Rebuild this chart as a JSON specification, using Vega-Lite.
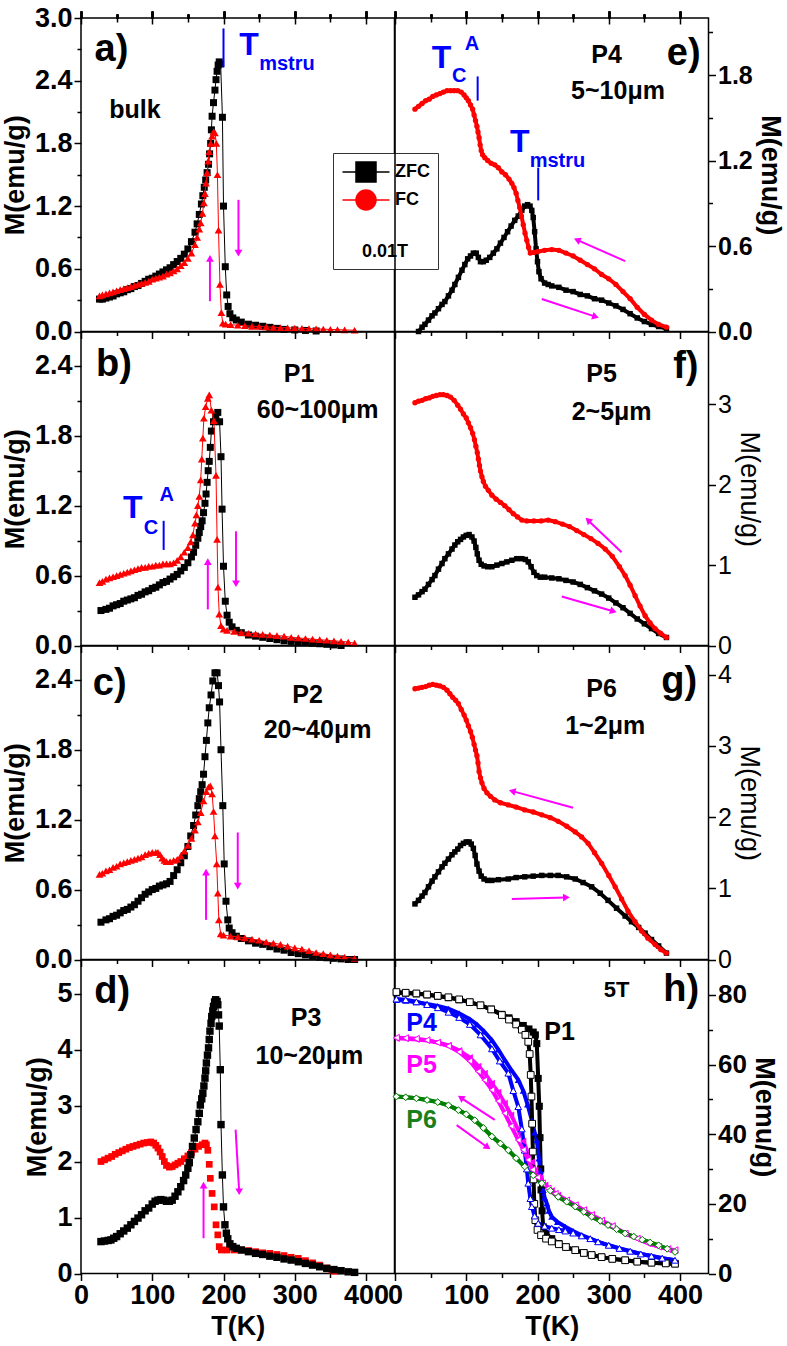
{
"$schema":"https://vega.github.io/schema/vega-lite/v6.json",
"padding":{"left":0,"top":3,"right":5,"bottom":5},
"config":{"view":{"stroke":"#000","strokeWidth":1.5},"font":"Liberation Sans",
"axis":{"grid":false,"domain":false,"labelFont":"Liberation Sans","labelFontWeight":"bold","labelFontSize":27,"labelColor":"#000","tickColor":"#000","tickWidth":1.5,"titleFont":"Liberation Sans","titleFontSize":27,"titleFontWeight":"bold","titleColor":"#000","labelOverlap":false,"labelFlush":false,"labelPadding":2},
"text":{"font":"Liberation Sans","fontWeight":"bold"}},
"datasets":{
"aZ":[{"t":26,"m":0.31},{"t":30,"m":0.31},{"t":35,"m":0.32},{"t":40,"m":0.33},{"t":45,"m":0.34},{"t":50,"m":0.36},{"t":55,"m":0.37},{"t":60,"m":0.38},{"t":65,"m":0.4},{"t":70,"m":0.41},{"t":75,"m":0.43},{"t":80,"m":0.44},{"t":85,"m":0.46},{"t":90,"m":0.48},{"t":95,"m":0.5},{"t":100,"m":0.51},{"t":105,"m":0.53},{"t":110,"m":0.55},{"t":115,"m":0.57},{"t":120,"m":0.59},{"t":125,"m":0.61},{"t":130,"m":0.64},{"t":135,"m":0.67},{"t":140,"m":0.7},{"t":145,"m":0.74},{"t":150,"m":0.79},{"t":155,"m":0.86},{"t":160,"m":0.95},{"t":163,"m":1.03},{"t":166,"m":1.12},{"t":169,"m":1.22},{"t":171,"m":1.3},{"t":173,"m":1.38},{"t":175,"m":1.45},{"t":177,"m":1.52},{"t":179,"m":1.6},{"t":180.5,"m":1.7},{"t":182,"m":1.8},{"t":183,"m":1.93},{"t":184,"m":2.06},{"t":186,"m":2.19},{"t":188,"m":2.31},{"t":189.5,"m":2.41},{"t":191,"m":2.49},{"t":192.5,"m":2.55},{"t":194,"m":2.58},{"t":196,"m":2.56},{"t":198.5,"m":2.05},{"t":200,"m":1.2},{"t":202.5,"m":0.62},{"t":204.5,"m":0.35},{"t":206.5,"m":0.24},{"t":209,"m":0.17},{"t":213,"m":0.13},{"t":218,"m":0.11},{"t":225,"m":0.09},{"t":235,"m":0.07},{"t":245,"m":0.06},{"t":255,"m":0.05},{"t":265,"m":0.04},{"t":275,"m":0.03},{"t":285,"m":0.02},{"t":300,"m":0.015},{"t":315,"m":0.01},{"t":330,"m":0.005}],
"aF":[{"t":26,"m":0.34},{"t":30,"m":0.35},{"t":35,"m":0.36},{"t":40,"m":0.37},{"t":45,"m":0.38},{"t":50,"m":0.39},{"t":55,"m":0.4},{"t":60,"m":0.41},{"t":65,"m":0.42},{"t":70,"m":0.43},{"t":75,"m":0.44},{"t":80,"m":0.45},{"t":85,"m":0.46},{"t":90,"m":0.47},{"t":95,"m":0.48},{"t":100,"m":0.5},{"t":105,"m":0.51},{"t":110,"m":0.52},{"t":115,"m":0.53},{"t":120,"m":0.55},{"t":125,"m":0.56},{"t":130,"m":0.58},{"t":135,"m":0.6},{"t":140,"m":0.63},{"t":145,"m":0.66},{"t":150,"m":0.7},{"t":155,"m":0.75},{"t":160,"m":0.83},{"t":163,"m":0.9},{"t":166,"m":0.98},{"t":168,"m":1.04},{"t":170.5,"m":1.13},{"t":172.5,"m":1.23},{"t":174,"m":1.32},{"t":175.5,"m":1.42},{"t":177,"m":1.52},{"t":178.5,"m":1.63},{"t":180,"m":1.72},{"t":182,"m":1.8},{"t":184,"m":1.87},{"t":186,"m":1.91},{"t":188,"m":1.9},{"t":190,"m":1.8},{"t":191.5,"m":1.5},{"t":193,"m":0.97},{"t":195,"m":0.45},{"t":197,"m":0.18},{"t":199,"m":0.08},{"t":203,"m":0.07},{"t":210,"m":0.065},{"t":220,"m":0.06},{"t":230,"m":0.055},{"t":240,"m":0.05},{"t":250,"m":0.048},{"t":260,"m":0.045},{"t":270,"m":0.04},{"t":280,"m":0.038},{"t":290,"m":0.035},{"t":300,"m":0.033},{"t":310,"m":0.03},{"t":320,"m":0.028},{"t":330,"m":0.025},{"t":340,"m":0.022},{"t":350,"m":0.02},{"t":360,"m":0.018},{"t":370,"m":0.015},{"t":384,"m":0.012}],
"bZ":[{"t":28,"m":0.3},{"t":35,"m":0.31},{"t":40,"m":0.32},{"t":45,"m":0.34},{"t":50,"m":0.35},{"t":55,"m":0.36},{"t":60,"m":0.38},{"t":65,"m":0.39},{"t":70,"m":0.4},{"t":75,"m":0.41},{"t":80,"m":0.43},{"t":85,"m":0.44},{"t":90,"m":0.46},{"t":95,"m":0.47},{"t":100,"m":0.49},{"t":105,"m":0.5},{"t":110,"m":0.52},{"t":115,"m":0.54},{"t":120,"m":0.55},{"t":125,"m":0.57},{"t":130,"m":0.59},{"t":135,"m":0.61},{"t":140,"m":0.64},{"t":145,"m":0.67},{"t":150,"m":0.71},{"t":155,"m":0.76},{"t":158,"m":0.8},{"t":161,"m":0.86},{"t":164,"m":0.92},{"t":166,"m":0.97},{"t":168,"m":1.02},{"t":170,"m":1.07},{"t":172,"m":1.14},{"t":174,"m":1.22},{"t":175.5,"m":1.3},{"t":177,"m":1.4},{"t":178.5,"m":1.5},{"t":180,"m":1.58},{"t":181.5,"m":1.7},{"t":183,"m":1.84},{"t":186,"m":1.92},{"t":189,"m":1.97},{"t":192,"m":2.0},{"t":194.5,"m":1.92},{"t":196.5,"m":1.62},{"t":198,"m":1.17},{"t":200,"m":0.68},{"t":202.5,"m":0.38},{"t":205,"m":0.26},{"t":208,"m":0.2},{"t":212,"m":0.16},{"t":218,"m":0.13},{"t":225,"m":0.11},{"t":235,"m":0.09},{"t":245,"m":0.08},{"t":255,"m":0.07},{"t":265,"m":0.06},{"t":275,"m":0.05},{"t":285,"m":0.04},{"t":295,"m":0.035},{"t":305,"m":0.03},{"t":315,"m":0.025},{"t":325,"m":0.02},{"t":335,"m":0.015},{"t":345,"m":0.01},{"t":355,"m":0.005},{"t":365,"m":0.0}],
"bF":[{"t":26,"m":0.54},{"t":30,"m":0.55},{"t":35,"m":0.57},{"t":40,"m":0.58},{"t":45,"m":0.59},{"t":50,"m":0.6},{"t":55,"m":0.61},{"t":60,"m":0.62},{"t":65,"m":0.63},{"t":70,"m":0.64},{"t":75,"m":0.65},{"t":80,"m":0.66},{"t":85,"m":0.67},{"t":90,"m":0.67},{"t":95,"m":0.68},{"t":100,"m":0.68},{"t":105,"m":0.69},{"t":110,"m":0.69},{"t":115,"m":0.7},{"t":120,"m":0.7},{"t":125,"m":0.7},{"t":130,"m":0.71},{"t":135,"m":0.73},{"t":140,"m":0.76},{"t":145,"m":0.8},{"t":150,"m":0.84},{"t":154,"m":0.89},{"t":157,"m":0.95},{"t":160,"m":1.05},{"t":162,"m":1.12},{"t":164,"m":1.2},{"t":166,"m":1.28},{"t":168,"m":1.42},{"t":169.5,"m":1.6},{"t":171,"m":1.78},{"t":172.5,"m":1.95},{"t":175,"m":2.05},{"t":178,"m":2.12},{"t":180,"m":2.15},{"t":183,"m":2.02},{"t":186.5,"m":1.93},{"t":189.5,"m":1.46},{"t":191,"m":0.91},{"t":192.3,"m":0.5},{"t":194,"m":0.27},{"t":196.5,"m":0.17},{"t":200,"m":0.14},{"t":205,"m":0.13},{"t":215,"m":0.12},{"t":225,"m":0.11},{"t":235,"m":0.105},{"t":245,"m":0.1},{"t":255,"m":0.095},{"t":265,"m":0.09},{"t":275,"m":0.085},{"t":285,"m":0.08},{"t":295,"m":0.07},{"t":305,"m":0.065},{"t":315,"m":0.06},{"t":325,"m":0.055},{"t":335,"m":0.05},{"t":345,"m":0.045},{"t":355,"m":0.04},{"t":365,"m":0.035},{"t":375,"m":0.03},{"t":384,"m":0.02}],
"cZ":[{"t":28,"m":0.32},{"t":35,"m":0.34},{"t":40,"m":0.35},{"t":45,"m":0.37},{"t":50,"m":0.38},{"t":55,"m":0.4},{"t":60,"m":0.42},{"t":65,"m":0.43},{"t":70,"m":0.45},{"t":75,"m":0.47},{"t":80,"m":0.5},{"t":85,"m":0.53},{"t":90,"m":0.56},{"t":95,"m":0.58},{"t":100,"m":0.6},{"t":105,"m":0.61},{"t":110,"m":0.63},{"t":115,"m":0.64},{"t":120,"m":0.65},{"t":125,"m":0.67},{"t":130,"m":0.72},{"t":135,"m":0.77},{"t":140,"m":0.83},{"t":145,"m":0.89},{"t":150,"m":0.97},{"t":154,"m":1.06},{"t":158,"m":1.15},{"t":161,"m":1.24},{"t":164,"m":1.32},{"t":166,"m":1.38},{"t":168,"m":1.44},{"t":170,"m":1.5},{"t":172,"m":1.59},{"t":174,"m":1.74},{"t":176,"m":1.88},{"t":178,"m":2.03},{"t":180,"m":2.16},{"t":182.5,"m":2.27},{"t":185,"m":2.39},{"t":188,"m":2.46},{"t":191,"m":2.46},{"t":193,"m":2.35},{"t":194.5,"m":2.21},{"t":196.5,"m":1.8},{"t":199,"m":1.32},{"t":201,"m":0.82},{"t":203.5,"m":0.5},{"t":206,"m":0.34},{"t":208,"m":0.27},{"t":212,"m":0.23},{"t":218,"m":0.2},{"t":225,"m":0.18},{"t":235,"m":0.16},{"t":245,"m":0.14},{"t":255,"m":0.13},{"t":265,"m":0.11},{"t":275,"m":0.09},{"t":285,"m":0.08},{"t":295,"m":0.06},{"t":305,"m":0.05},{"t":315,"m":0.04},{"t":325,"m":0.03},{"t":335,"m":0.02},{"t":345,"m":0.015},{"t":355,"m":0.01},{"t":365,"m":0.005},{"t":375,"m":0.0},{"t":384,"m":0.0}],
"cF":[{"t":26,"m":0.73},{"t":30,"m":0.74},{"t":35,"m":0.76},{"t":40,"m":0.77},{"t":45,"m":0.79},{"t":50,"m":0.8},{"t":55,"m":0.82},{"t":60,"m":0.83},{"t":65,"m":0.84},{"t":70,"m":0.85},{"t":75,"m":0.86},{"t":80,"m":0.87},{"t":85,"m":0.88},{"t":90,"m":0.9},{"t":95,"m":0.91},{"t":100,"m":0.92},{"t":105,"m":0.92},{"t":108,"m":0.92},{"t":111,"m":0.9},{"t":114,"m":0.87},{"t":117,"m":0.85},{"t":120,"m":0.84},{"t":125,"m":0.84},{"t":130,"m":0.85},{"t":135,"m":0.86},{"t":140,"m":0.89},{"t":145,"m":0.93},{"t":150,"m":0.98},{"t":155,"m":1.04},{"t":160,"m":1.11},{"t":164,"m":1.18},{"t":168,"m":1.26},{"t":172,"m":1.36},{"t":176,"m":1.44},{"t":179,"m":1.48},{"t":181.5,"m":1.49},{"t":184,"m":1.42},{"t":186,"m":1.27},{"t":188,"m":1.06},{"t":190.5,"m":0.82},{"t":192,"m":0.57},{"t":193.5,"m":0.34},{"t":196,"m":0.22},{"t":200,"m":0.21},{"t":210,"m":0.2},{"t":220,"m":0.195},{"t":230,"m":0.185},{"t":240,"m":0.175},{"t":250,"m":0.165},{"t":260,"m":0.15},{"t":270,"m":0.14},{"t":280,"m":0.13},{"t":290,"m":0.115},{"t":300,"m":0.1},{"t":310,"m":0.09},{"t":320,"m":0.075},{"t":330,"m":0.06},{"t":340,"m":0.05},{"t":350,"m":0.04},{"t":360,"m":0.03},{"t":370,"m":0.02},{"t":384,"m":0.01}],
"dZ":[{"t":28,"m":0.57},{"t":33,"m":0.58},{"t":38,"m":0.59},{"t":42,"m":0.6},{"t":46,"m":0.63},{"t":50,"m":0.66},{"t":55,"m":0.71},{"t":60,"m":0.76},{"t":65,"m":0.81},{"t":70,"m":0.87},{"t":75,"m":0.93},{"t":80,"m":0.99},{"t":85,"m":1.05},{"t":90,"m":1.12},{"t":95,"m":1.17},{"t":100,"m":1.24},{"t":104,"m":1.29},{"t":108,"m":1.31},{"t":112,"m":1.32},{"t":116,"m":1.31},{"t":120,"m":1.29},{"t":124,"m":1.29},{"t":128,"m":1.31},{"t":132,"m":1.38},{"t":136,"m":1.46},{"t":140,"m":1.55},{"t":144,"m":1.66},{"t":147,"m":1.76},{"t":150,"m":1.88},{"t":152,"m":1.98},{"t":154,"m":2.12},{"t":156.5,"m":2.27},{"t":159,"m":2.42},{"t":161.5,"m":2.57},{"t":164,"m":2.71},{"t":166,"m":2.86},{"t":167.5,"m":3.01},{"t":169.5,"m":3.12},{"t":171,"m":3.22},{"t":172.5,"m":3.35},{"t":174,"m":3.49},{"t":175,"m":3.62},{"t":176,"m":3.76},{"t":177.5,"m":3.9},{"t":179,"m":4.03},{"t":180,"m":4.18},{"t":181,"m":4.33},{"t":182.5,"m":4.47},{"t":183.5,"m":4.59},{"t":185,"m":4.69},{"t":186,"m":4.77},{"t":187.5,"m":4.85},{"t":189,"m":4.89},{"t":191,"m":4.86},{"t":192,"m":4.8},{"t":193,"m":4.62},{"t":194,"m":4.42},{"t":195.5,"m":3.64},{"t":196.5,"m":2.66},{"t":198.4,"m":1.76},{"t":200,"m":1.19},{"t":202,"m":0.87},{"t":204,"m":0.72},{"t":206,"m":0.62},{"t":209,"m":0.53},{"t":213,"m":0.48},{"t":218,"m":0.45},{"t":225,"m":0.42},{"t":235,"m":0.39},{"t":245,"m":0.36},{"t":255,"m":0.34},{"t":265,"m":0.31},{"t":275,"m":0.29},{"t":285,"m":0.26},{"t":295,"m":0.24},{"t":305,"m":0.21},{"t":315,"m":0.18},{"t":325,"m":0.15},{"t":335,"m":0.12},{"t":345,"m":0.09},{"t":355,"m":0.07},{"t":365,"m":0.05},{"t":375,"m":0.03},{"t":384,"m":0.02}],
"dF":[{"t":28,"m":2.0},{"t":33,"m":2.03},{"t":38,"m":2.06},{"t":43,"m":2.09},{"t":48,"m":2.13},{"t":53,"m":2.16},{"t":58,"m":2.19},{"t":63,"m":2.22},{"t":68,"m":2.25},{"t":73,"m":2.27},{"t":78,"m":2.29},{"t":83,"m":2.31},{"t":88,"m":2.33},{"t":93,"m":2.34},{"t":98,"m":2.35},{"t":102,"m":2.33},{"t":105,"m":2.29},{"t":108,"m":2.24},{"t":111,"m":2.17},{"t":114,"m":2.09},{"t":117,"m":2.0},{"t":120,"m":1.93},{"t":124,"m":1.9},{"t":128,"m":1.91},{"t":132,"m":1.94},{"t":136,"m":1.97},{"t":140,"m":2.0},{"t":145,"m":2.05},{"t":150,"m":2.1},{"t":155,"m":2.16},{"t":160,"m":2.22},{"t":165,"m":2.27},{"t":170,"m":2.3},{"t":174,"m":2.33},{"t":176,"m":2.3},{"t":178,"m":2.2},{"t":180,"m":1.95},{"t":181.5,"m":1.7},{"t":184,"m":1.43},{"t":187,"m":1.19},{"t":189.5,"m":0.87},{"t":192,"m":0.69},{"t":194,"m":0.48},{"t":197,"m":0.42},{"t":205,"m":0.42},{"t":215,"m":0.42},{"t":225,"m":0.42},{"t":235,"m":0.41},{"t":245,"m":0.39},{"t":255,"m":0.37},{"t":265,"m":0.36},{"t":275,"m":0.34},{"t":285,"m":0.32},{"t":295,"m":0.29},{"t":305,"m":0.27},{"t":315,"m":0.23},{"t":325,"m":0.19},{"t":335,"m":0.15},{"t":345,"m":0.1},{"t":352,"m":0.06},{"t":356,"m":0.04}],
"eZ":[{"t":33,"m":0.0},{"t":38,"m":0.03},{"t":42,"m":0.05},{"t":47,"m":0.08},{"t":52,"m":0.11},{"t":56,"m":0.13},{"t":61,"m":0.16},{"t":66,"m":0.19},{"t":70,"m":0.21},{"t":75,"m":0.25},{"t":80,"m":0.29},{"t":84,"m":0.33},{"t":89,"m":0.38},{"t":94,"m":0.43},{"t":98,"m":0.47},{"t":102,"m":0.51},{"t":106,"m":0.53},{"t":110,"m":0.55},{"t":114,"m":0.55},{"t":117,"m":0.52},{"t":120,"m":0.49},{"t":124,"m":0.49},{"t":128,"m":0.5},{"t":133,"m":0.52},{"t":138,"m":0.55},{"t":143,"m":0.58},{"t":148,"m":0.62},{"t":153,"m":0.66},{"t":158,"m":0.7},{"t":163,"m":0.74},{"t":168,"m":0.78},{"t":173,"m":0.81},{"t":178,"m":0.85},{"t":182,"m":0.88},{"t":186,"m":0.89},{"t":189.5,"m":0.88},{"t":192,"m":0.85},{"t":194,"m":0.8},{"t":196,"m":0.7},{"t":198,"m":0.58},{"t":200,"m":0.49},{"t":202,"m":0.42},{"t":205,"m":0.37},{"t":210,"m":0.34},{"t":215,"m":0.33},{"t":220,"m":0.32},{"t":230,"m":0.31},{"t":240,"m":0.29},{"t":250,"m":0.28},{"t":260,"m":0.26},{"t":270,"m":0.25},{"t":280,"m":0.23},{"t":290,"m":0.22},{"t":300,"m":0.2},{"t":310,"m":0.18},{"t":320,"m":0.155},{"t":330,"m":0.125},{"t":340,"m":0.095},{"t":350,"m":0.07},{"t":360,"m":0.05},{"t":370,"m":0.035},{"t":381,"m":0.02}],
"eF":[{"t":28,"m":1.56},{"t":33,"m":1.58},{"t":38,"m":1.6},{"t":43,"m":1.62},{"t":48,"m":1.63},{"t":53,"m":1.65},{"t":58,"m":1.66},{"t":63,"m":1.67},{"t":68,"m":1.68},{"t":73,"m":1.69},{"t":78,"m":1.69},{"t":83,"m":1.69},{"t":88,"m":1.69},{"t":93,"m":1.68},{"t":97,"m":1.66},{"t":100,"m":1.64},{"t":103,"m":1.62},{"t":106,"m":1.59},{"t":109,"m":1.56},{"t":111,"m":1.52},{"t":113,"m":1.48},{"t":115,"m":1.44},{"t":116.5,"m":1.4},{"t":118,"m":1.36},{"t":119.5,"m":1.31},{"t":121,"m":1.27},{"t":123,"m":1.24},{"t":126,"m":1.22},{"t":130,"m":1.2},{"t":135,"m":1.18},{"t":140,"m":1.17},{"t":145,"m":1.15},{"t":150,"m":1.12},{"t":155,"m":1.1},{"t":160,"m":1.07},{"t":164,"m":1.04},{"t":167,"m":1.01},{"t":170,"m":0.97},{"t":172.5,"m":0.92},{"t":175,"m":0.87},{"t":177.5,"m":0.81},{"t":180,"m":0.75},{"t":182.5,"m":0.69},{"t":185,"m":0.64},{"t":187.5,"m":0.59},{"t":190,"m":0.55},{"t":195,"m":0.555},{"t":200,"m":0.56},{"t":210,"m":0.57},{"t":220,"m":0.575},{"t":230,"m":0.57},{"t":240,"m":0.55},{"t":250,"m":0.53},{"t":260,"m":0.5},{"t":270,"m":0.47},{"t":280,"m":0.44},{"t":290,"m":0.4},{"t":300,"m":0.37},{"t":310,"m":0.33},{"t":320,"m":0.28},{"t":330,"m":0.23},{"t":340,"m":0.17},{"t":350,"m":0.12},{"t":360,"m":0.08},{"t":370,"m":0.05},{"t":381,"m":0.03}],
"fZ":[{"t":28,"m":0.6},{"t":33,"m":0.63},{"t":38,"m":0.67},{"t":42,"m":0.7},{"t":47,"m":0.76},{"t":52,"m":0.82},{"t":56,"m":0.87},{"t":61,"m":0.95},{"t":66,"m":1.02},{"t":70,"m":1.08},{"t":75,"m":1.14},{"t":80,"m":1.2},{"t":84,"m":1.25},{"t":88,"m":1.29},{"t":92,"m":1.32},{"t":96,"m":1.35},{"t":100,"m":1.37},{"t":104,"m":1.38},{"t":108,"m":1.35},{"t":111,"m":1.3},{"t":113.5,"m":1.22},{"t":115.5,"m":1.14},{"t":118,"m":1.06},{"t":121,"m":1.01},{"t":125,"m":0.99},{"t":130,"m":0.98},{"t":136,"m":0.98},{"t":143,"m":1.0},{"t":150,"m":1.02},{"t":157,"m":1.04},{"t":164,"m":1.06},{"t":171,"m":1.08},{"t":178,"m":1.08},{"t":183,"m":1.07},{"t":187,"m":1.04},{"t":191,"m":0.98},{"t":195,"m":0.91},{"t":199,"m":0.87},{"t":204,"m":0.85},{"t":210,"m":0.85},{"t":220,"m":0.84},{"t":230,"m":0.83},{"t":240,"m":0.81},{"t":250,"m":0.79},{"t":260,"m":0.76},{"t":270,"m":0.72},{"t":280,"m":0.68},{"t":290,"m":0.64},{"t":300,"m":0.59},{"t":310,"m":0.53},{"t":320,"m":0.47},{"t":330,"m":0.4},{"t":340,"m":0.33},{"t":350,"m":0.27},{"t":360,"m":0.21},{"t":370,"m":0.15},{"t":381,"m":0.1}],
"fF":[{"t":28,"m":3.02},{"t":33,"m":3.04},{"t":38,"m":3.05},{"t":43,"m":3.07},{"t":48,"m":3.08},{"t":53,"m":3.1},{"t":58,"m":3.11},{"t":63,"m":3.12},{"t":68,"m":3.12},{"t":73,"m":3.11},{"t":78,"m":3.09},{"t":83,"m":3.05},{"t":88,"m":2.99},{"t":92,"m":2.94},{"t":96,"m":2.88},{"t":100,"m":2.83},{"t":103,"m":2.77},{"t":106,"m":2.71},{"t":109,"m":2.64},{"t":111.5,"m":2.56},{"t":113.5,"m":2.48},{"t":115.5,"m":2.4},{"t":117,"m":2.32},{"t":118.5,"m":2.24},{"t":120,"m":2.17},{"t":122,"m":2.1},{"t":124,"m":2.04},{"t":127,"m":1.98},{"t":131,"m":1.93},{"t":136,"m":1.87},{"t":142,"m":1.82},{"t":148,"m":1.78},{"t":154,"m":1.74},{"t":160,"m":1.69},{"t":166,"m":1.64},{"t":172,"m":1.6},{"t":178,"m":1.56},{"t":185,"m":1.55},{"t":195,"m":1.55},{"t":205,"m":1.55},{"t":215,"m":1.56},{"t":225,"m":1.54},{"t":235,"m":1.51},{"t":245,"m":1.48},{"t":255,"m":1.43},{"t":265,"m":1.38},{"t":275,"m":1.33},{"t":285,"m":1.27},{"t":295,"m":1.2},{"t":305,"m":1.11},{"t":315,"m":0.98},{"t":323,"m":0.87},{"t":330,"m":0.75},{"t":337,"m":0.62},{"t":344,"m":0.49},{"t":351,"m":0.37},{"t":358,"m":0.28},{"t":365,"m":0.21},{"t":373,"m":0.15},{"t":381,"m":0.1}],
"gZ":[{"t":28,"m":0.78},{"t":33,"m":0.83},{"t":38,"m":0.89},{"t":42,"m":0.94},{"t":47,"m":1.02},{"t":52,"m":1.1},{"t":56,"m":1.16},{"t":61,"m":1.23},{"t":66,"m":1.3},{"t":70,"m":1.35},{"t":75,"m":1.41},{"t":80,"m":1.47},{"t":84,"m":1.51},{"t":88,"m":1.55},{"t":92,"m":1.6},{"t":96,"m":1.63},{"t":100,"m":1.65},{"t":104,"m":1.65},{"t":107,"m":1.62},{"t":110,"m":1.56},{"t":112.5,"m":1.46},{"t":115,"m":1.34},{"t":118,"m":1.24},{"t":121,"m":1.17},{"t":125,"m":1.13},{"t":130,"m":1.11},{"t":136,"m":1.11},{"t":145,"m":1.12},{"t":159,"m":1.13},{"t":170,"m":1.15},{"t":182,"m":1.16},{"t":194,"m":1.17},{"t":206,"m":1.18},{"t":218,"m":1.18},{"t":229,"m":1.18},{"t":241,"m":1.16},{"t":253,"m":1.13},{"t":264,"m":1.08},{"t":276,"m":1.02},{"t":288,"m":0.93},{"t":299,"m":0.83},{"t":311,"m":0.72},{"t":323,"m":0.61},{"t":332,"m":0.53},{"t":342,"m":0.45},{"t":351,"m":0.37},{"t":360,"m":0.28},{"t":370,"m":0.19},{"t":381,"m":0.09}],
"gF":[{"t":28,"m":3.8},{"t":33,"m":3.81},{"t":38,"m":3.82},{"t":43,"m":3.83},{"t":48,"m":3.85},{"t":53,"m":3.86},{"t":58,"m":3.85},{"t":63,"m":3.84},{"t":68,"m":3.82},{"t":73,"m":3.78},{"t":77,"m":3.73},{"t":81,"m":3.68},{"t":85,"m":3.64},{"t":89,"m":3.59},{"t":93,"m":3.51},{"t":97,"m":3.43},{"t":100,"m":3.36},{"t":103,"m":3.28},{"t":106,"m":3.2},{"t":108.5,"m":3.12},{"t":111,"m":3.02},{"t":113,"m":2.94},{"t":115,"m":2.86},{"t":116.5,"m":2.76},{"t":118,"m":2.64},{"t":120,"m":2.55},{"t":122,"m":2.48},{"t":125,"m":2.4},{"t":129,"m":2.34},{"t":134,"m":2.29},{"t":140,"m":2.24},{"t":148,"m":2.2},{"t":159,"m":2.17},{"t":170,"m":2.14},{"t":182,"m":2.1},{"t":194,"m":2.07},{"t":206,"m":2.03},{"t":218,"m":1.99},{"t":229,"m":1.94},{"t":241,"m":1.87},{"t":253,"m":1.79},{"t":262,"m":1.72},{"t":271,"m":1.63},{"t":280,"m":1.5},{"t":290,"m":1.35},{"t":300,"m":1.18},{"t":309,"m":1.02},{"t":318,"m":0.85},{"t":327,"m":0.68},{"t":337,"m":0.53},{"t":346,"m":0.4},{"t":355,"m":0.3},{"t":365,"m":0.21},{"t":373,"m":0.14},{"t":381,"m":0.09}],
"hZ":[{"p":"P1","t":2,"m":80.6},{"p":"P1","t":15,"m":80.5},{"p":"P1","t":30,"m":80.3},{"p":"P1","t":45,"m":80.0},{"p":"P1","t":60,"m":79.6},{"p":"P1","t":75,"m":79.2},{"p":"P1","t":90,"m":78.6},{"p":"P1","t":105,"m":77.9},{"p":"P1","t":120,"m":77.0},{"p":"P1","t":135,"m":75.9},{"p":"P1","t":150,"m":74.4},{"p":"P1","t":160,"m":73.4},{"p":"P1","t":170,"m":72.3},{"p":"P1","t":180,"m":71.2},{"p":"P1","t":188,"m":70.2},{"p":"P1","t":194,"m":69.3},{"p":"P1","t":197,"m":68.5},{"p":"P1","t":199,"m":66.0},{"p":"P1","t":201,"m":56.0},{"p":"P1","t":202.5,"m":48.0},{"p":"P1","t":203.5,"m":39.0},{"p":"P1","t":204.5,"m":30.0},{"p":"P1","t":205,"m":24.0},{"p":"P1","t":206.5,"m":18.0},{"p":"P1","t":208,"m":13.4},{"p":"P1","t":212,"m":11.5},{"p":"P1","t":220,"m":10.0},{"p":"P1","t":230,"m":8.6},{"p":"P1","t":240,"m":7.6},{"p":"P1","t":253,"m":6.7},{"p":"P1","t":265,"m":5.9},{"p":"P1","t":276,"m":5.3},{"p":"P1","t":290,"m":4.7},{"p":"P1","t":305,"m":4.2},{"p":"P1","t":323,"m":3.8},{"p":"P1","t":340,"m":3.4},{"p":"P1","t":360,"m":3.1},{"p":"P1","t":380,"m":2.9},{"p":"P1","t":393,"m":2.8},
{"p":"P4","t":2,"m":78.5},{"p":"P4","t":15,"m":78.3},{"p":"P4","t":30,"m":77.9},{"p":"P4","t":45,"m":77.4},{"p":"P4","t":60,"m":76.8},{"p":"P4","t":75,"m":76.0},{"p":"P4","t":90,"m":74.7},{"p":"P4","t":105,"m":73.0},{"p":"P4","t":115,"m":71.5},{"p":"P4","t":125,"m":69.5},{"p":"P4","t":136,"m":67.0},{"p":"P4","t":145,"m":64.3},{"p":"P4","t":154,"m":61.3},{"p":"P4","t":163,"m":58.5},{"p":"P4","t":173,"m":55.6},{"p":"P4","t":180,"m":52.5},{"p":"P4","t":186,"m":48.5},{"p":"P4","t":192,"m":44.0},{"p":"P4","t":196,"m":40.5},{"p":"P4","t":199,"m":38.3},{"p":"P4","t":202,"m":33.0},{"p":"P4","t":204,"m":29.5},{"p":"P4","t":206,"m":26.8},{"p":"P4","t":208,"m":24.0},{"p":"P4","t":210,"m":21.8},{"p":"P4","t":213,"m":20.1},{"p":"P4","t":216,"m":18.0},{"p":"P4","t":220,"m":16.3},{"p":"P4","t":228,"m":14.8},{"p":"P4","t":239,"m":13.4},{"p":"P4","t":250,"m":12.2},{"p":"P4","t":262,"m":11.0},{"p":"P4","t":274,"m":10.0},{"p":"P4","t":285,"m":9.1},{"p":"P4","t":300,"m":8.1},{"p":"P4","t":315,"m":7.2},{"p":"P4","t":330,"m":6.4},{"p":"P4","t":345,"m":5.6},{"p":"P4","t":360,"m":5.0},{"p":"P4","t":375,"m":4.4},{"p":"P4","t":393,"m":3.8},
{"p":"P5","t":2,"m":67.5},{"p":"P5","t":15,"m":67.4},{"p":"P5","t":30,"m":67.2},{"p":"P5","t":45,"m":66.9},{"p":"P5","t":60,"m":66.3},{"p":"P5","t":75,"m":65.5},{"p":"P5","t":90,"m":64.0},{"p":"P5","t":105,"m":62.0},{"p":"P5","t":117,"m":59.5},{"p":"P5","t":126,"m":57.5},{"p":"P5","t":136,"m":54.6},{"p":"P5","t":145,"m":52.0},{"p":"P5","t":154,"m":48.9},{"p":"P5","t":163,"m":45.5},{"p":"P5","t":173,"m":41.2},{"p":"P5","t":180,"m":38.0},{"p":"P5","t":187,"m":34.5},{"p":"P5","t":192,"m":32.0},{"p":"P5","t":197,"m":29.7},{"p":"P5","t":204,"m":27.5},{"p":"P5","t":211,"m":25.4},{"p":"P5","t":220,"m":23.8},{"p":"P5","t":229,"m":22.5},{"p":"P5","t":241,"m":21.0},{"p":"P5","t":253,"m":19.6},{"p":"P5","t":265,"m":18.2},{"p":"P5","t":276,"m":16.8},{"p":"P5","t":290,"m":15.2},{"p":"P5","t":305,"m":13.6},{"p":"P5","t":323,"m":11.5},{"p":"P5","t":340,"m":10.0},{"p":"P5","t":355,"m":8.7},{"p":"P5","t":370,"m":7.7},{"p":"P5","t":383,"m":7.0},{"p":"P5","t":393,"m":6.7},
{"p":"P6","t":2,"m":50.8},{"p":"P6","t":15,"m":50.6},{"p":"P6","t":30,"m":50.3},{"p":"P6","t":45,"m":49.8},{"p":"P6","t":60,"m":49.2},{"p":"P6","t":75,"m":48.3},{"p":"P6","t":89,"m":46.9},{"p":"P6","t":100,"m":45.7},{"p":"P6","t":112,"m":44.0},{"p":"P6","t":124,"m":41.8},{"p":"P6","t":136,"m":39.3},{"p":"P6","t":148,"m":37.3},{"p":"P6","t":159,"m":35.4},{"p":"P6","t":170,"m":33.1},{"p":"P6","t":182,"m":30.7},{"p":"P6","t":194,"m":28.2},{"p":"P6","t":206,"m":25.9},{"p":"P6","t":218,"m":23.8},{"p":"P6","t":229,"m":22.0},{"p":"P6","t":241,"m":20.6},{"p":"P6","t":253,"m":19.2},{"p":"P6","t":265,"m":17.7},{"p":"P6","t":276,"m":16.3},{"p":"P6","t":288,"m":15.1},{"p":"P6","t":299,"m":13.9},{"p":"P6","t":311,"m":12.7},{"p":"P6","t":323,"m":11.5},{"p":"P6","t":335,"m":10.6},{"p":"P6","t":347,"m":9.7},{"p":"P6","t":358,"m":8.9},{"p":"P6","t":370,"m":8.1},{"p":"P6","t":382,"m":7.1},{"p":"P6","t":393,"m":6.2}],
"hF":[{"p":"P1","t":2,"m":80.8},{"p":"P1","t":15,"m":80.6},{"p":"P1","t":30,"m":80.4},{"p":"P1","t":45,"m":80.1},{"p":"P1","t":60,"m":79.7},{"p":"P1","t":75,"m":79.3},{"p":"P1","t":90,"m":78.7},{"p":"P1","t":105,"m":77.9},{"p":"P1","t":120,"m":77.0},{"p":"P1","t":135,"m":75.8},{"p":"P1","t":150,"m":74.2},{"p":"P1","t":160,"m":72.9},{"p":"P1","t":170,"m":71.5},{"p":"P1","t":178,"m":70.0},{"p":"P1","t":183,"m":68.5},{"p":"P1","t":187,"m":66.5},{"p":"P1","t":189,"m":63.0},{"p":"P1","t":190.5,"m":57.0},{"p":"P1","t":191.5,"m":50.8},{"p":"P1","t":192.5,"m":43.0},{"p":"P1","t":193.5,"m":35.0},{"p":"P1","t":194.5,"m":27.0},{"p":"P1","t":195.5,"m":20.0},{"p":"P1","t":197,"m":15.3},{"p":"P1","t":200,"m":12.5},{"p":"P1","t":205,"m":11.0},{"p":"P1","t":212,"m":10.0},{"p":"P1","t":220,"m":9.2},{"p":"P1","t":230,"m":8.4},{"p":"P1","t":240,"m":7.6},{"p":"P1","t":253,"m":6.7},{"p":"P1","t":265,"m":5.9},{"p":"P1","t":276,"m":5.3},{"p":"P1","t":290,"m":4.7},{"p":"P1","t":305,"m":4.2},{"p":"P1","t":323,"m":3.8},{"p":"P1","t":340,"m":3.4},{"p":"P1","t":360,"m":3.1},{"p":"P1","t":380,"m":2.9},{"p":"P1","t":393,"m":2.8},
{"p":"P4","t":2,"m":78.8},{"p":"P4","t":15,"m":78.6},{"p":"P4","t":30,"m":78.0},{"p":"P4","t":45,"m":77.2},{"p":"P4","t":60,"m":76.3},{"p":"P4","t":75,"m":75.0},{"p":"P4","t":90,"m":73.5},{"p":"P4","t":105,"m":71.5},{"p":"P4","t":120,"m":68.5},{"p":"P4","t":136,"m":64.5},{"p":"P4","t":147,"m":61.0},{"p":"P4","t":159,"m":57.5},{"p":"P4","t":166,"m":52.5},{"p":"P4","t":173,"m":47.9},{"p":"P4","t":178,"m":41.5},{"p":"P4","t":182,"m":35.4},{"p":"P4","t":185,"m":30.0},{"p":"P4","t":187,"m":25.9},{"p":"P4","t":190,"m":21.5},{"p":"P4","t":192,"m":19.2},{"p":"P4","t":196,"m":16.5},{"p":"P4","t":201,"m":14.4},{"p":"P4","t":210,"m":13.6},{"p":"P4","t":220,"m":13.0},{"p":"P4","t":230,"m":12.6},{"p":"P4","t":239,"m":12.2},{"p":"P4","t":250,"m":11.6},{"p":"P4","t":262,"m":10.8},{"p":"P4","t":274,"m":10.0},{"p":"P4","t":285,"m":9.1},{"p":"P4","t":300,"m":8.1},{"p":"P4","t":315,"m":7.2},{"p":"P4","t":330,"m":6.4},{"p":"P4","t":345,"m":5.6},{"p":"P4","t":360,"m":5.0},{"p":"P4","t":375,"m":4.4},{"p":"P4","t":393,"m":3.8},
{"p":"P5","t":2,"m":67.7},{"p":"P5","t":15,"m":67.6},{"p":"P5","t":30,"m":67.4},{"p":"P5","t":45,"m":67.0},{"p":"P5","t":60,"m":66.3},{"p":"P5","t":75,"m":65.3},{"p":"P5","t":90,"m":63.6},{"p":"P5","t":105,"m":61.0},{"p":"P5","t":117,"m":58.0},{"p":"P5","t":126,"m":55.5},{"p":"P5","t":136,"m":52.7},{"p":"P5","t":145,"m":49.5},{"p":"P5","t":154,"m":46.0},{"p":"P5","t":163,"m":42.3},{"p":"P5","t":173,"m":38.3},{"p":"P5","t":180,"m":35.5},{"p":"P5","t":187,"m":32.6},{"p":"P5","t":193,"m":29.8},{"p":"P5","t":200,"m":27.6},{"p":"P5","t":207,"m":25.9},{"p":"P5","t":215,"m":24.4},{"p":"P5","t":225,"m":22.9},{"p":"P5","t":241,"m":21.0},{"p":"P5","t":253,"m":19.6},{"p":"P5","t":265,"m":18.2},{"p":"P5","t":276,"m":16.8},{"p":"P5","t":290,"m":15.2},{"p":"P5","t":305,"m":13.6},{"p":"P5","t":323,"m":11.5},{"p":"P5","t":340,"m":10.0},{"p":"P5","t":355,"m":8.7},{"p":"P5","t":370,"m":7.7},{"p":"P5","t":383,"m":7.0},{"p":"P5","t":393,"m":6.7},
{"p":"P6","t":2,"m":50.8},{"p":"P6","t":15,"m":50.6},{"p":"P6","t":30,"m":50.3},{"p":"P6","t":45,"m":49.8},{"p":"P6","t":60,"m":49.2},{"p":"P6","t":75,"m":48.3},{"p":"P6","t":89,"m":46.9},{"p":"P6","t":100,"m":45.7},{"p":"P6","t":112,"m":44.0},{"p":"P6","t":124,"m":41.8},{"p":"P6","t":136,"m":39.3},{"p":"P6","t":148,"m":37.3},{"p":"P6","t":159,"m":35.4},{"p":"P6","t":170,"m":33.1},{"p":"P6","t":182,"m":30.7},{"p":"P6","t":194,"m":28.2},{"p":"P6","t":206,"m":25.9},{"p":"P6","t":218,"m":23.8},{"p":"P6","t":229,"m":22.0},{"p":"P6","t":241,"m":20.6},{"p":"P6","t":253,"m":19.2},{"p":"P6","t":265,"m":17.7},{"p":"P6","t":276,"m":16.3},{"p":"P6","t":288,"m":15.1},{"p":"P6","t":299,"m":13.9},{"p":"P6","t":311,"m":12.7},{"p":"P6","t":323,"m":11.5},{"p":"P6","t":335,"m":10.6},{"p":"P6","t":347,"m":9.7},{"p":"P6","t":358,"m":8.9},{"p":"P6","t":370,"m":8.1},{"p":"P6","t":382,"m":7.1},{"p":"P6","t":393,"m":6.2}]
},
"columns":2,"spacing":0,"bounds":"flush",
"resolve":{"scale":{"shape":"independent","color":"independent","fill":"independent","stroke":"independent"},"legend":{"shape":"independent","color":"independent","fill":"independent","stroke":"independent"}},
"concat":[
{"width":313.5,"height":313.5,
"resolve":{"axis":{"x":"independent"}},
"encoding":{"x":{"field":"t","type":"quantitative","scale":{"domain":[0,440],"nice":false,"zero":false},"axis":{"values":[0,50,100,150,200,250,300,350,400],"labels":false,"title":null,"tickSize":{"condition":{"test":"datum.value % 100 == 0","value":7},"value":4}}},
"y":{"field":"m","type":"quantitative","scale":{"domain":[0,3],"nice":false},"axis":{"values":[0,0.3,0.6,0.9,1.2,1.5,1.8,2.1,2.4,2.7,3],"format":".1f","labelExpr":"abs(datum.value/0.6-round(datum.value/0.6))<0.01 ? datum.label : ''","title":"M(emu/g)","titlePadding":5,"tickSize":{"condition":{"test":"abs(datum.value/0.6-round(datum.value/0.6))<0.01","value":7},"value":4}}}},
"layer":[
{"data":{"name":"aZ"},"mark":{"type":"line","color":"#000","strokeWidth":1}},
{"data":{"name":"aZ"},"mark":{"type":"point","shape":"square","filled":true,"color":"#000","size":49,"opacity":1}},
{"data":{"name":"aF"},"mark":{"type":"line","color":"#f00","strokeWidth":1}},
{"data":{"name":"aF"},"mark":{"type":"point","shape":"triangle-up","filled":true,"color":"#f00","size":60,"opacity":1}},
{"data":{"values":[{"t":181,"m":0.29,"t2":181,"m2":0.7},{"t":221,"m":1.26,"t2":221,"m2":0.75}]},"mark":{"type":"rule","color":"#f0f","strokeWidth":2},"encoding":{"x2":{"field":"t2"},"y2":{"field":"m2"}}},
{"data":{"values":[{"t":181,"m":0.7}]},"mark":{"type":"point","shape":"triangle-up","filled":true,"color":"#f0f","size":60,"opacity":1}},
{"data":{"values":[{"t":221,"m":0.75}]},"mark":{"type":"point","shape":"triangle-down","filled":true,"color":"#f0f","size":60,"opacity":1}},
{"data":{"values":[{"t":200,"m":2.53,"m2":2.9}]},"mark":{"type":"rule","color":"#00f","strokeWidth":2},"encoding":{"y2":{"field":"m2"}}},
{"data":{"values":[{"t":19,"m":2.69,"k":"a)"}]},"mark":{"type":"text","fontSize":38,"align":"left","baseline":"middle"},"encoding":{"text":{"field":"k"}}},
{"data":{"values":[{"t":39.6,"m":2.12,"k":"bulk"}]},"mark":{"type":"text","fontSize":25,"align":"left","baseline":"middle"},"encoding":{"text":{"field":"k"}}},
{"data":{"values":[{"t":222,"m":2.74,"k":"T"}]},"mark":{"type":"text","fontSize":32,"align":"left","baseline":"middle","color":"#00f"},"encoding":{"text":{"field":"k"}}},
{"data":{"values":[{"t":250,"m":2.56,"k":"mstru"}]},"mark":{"type":"text","fontSize":20,"align":"left","baseline":"middle","color":"#00f"},"encoding":{"text":{"field":"k"}}},
{"data":{"values":[{"t":0,"m":0}]},"mark":{"type":"point","opacity":0},"encoding":{"x":{"field":"t","type":"quantitative","axis":{"orient":"top","values":[0,50,100,150,200,250,300,350,400],"labels":false,"title":null,"tickSize":{"condition":{"test":"datum.value % 100 == 0","value":-6},"value":-4}}}}},
{"data":{"values":[{"s":"ZFC"},{"s":"FC"}]},"mark":{"type":"point","filled":true,"clip":true,"opacity":1},
"encoding":{"x":{"value":-500},"y":{"value":-500},
"fill":{"field":"s","type":"nominal","scale":{"domain":["ZFC","FC"],"range":["#000000","#ff0000"]},"legend":{"orient":"none","legendX":252,"legendY":135,"title":"0.01T","titleOrient":"bottom","titleAnchor":"middle","titleFontSize":18,"titleFontWeight":"bold","titleFont":"Liberation Sans","titleColor":"#000","titlePadding":30,"labelFontSize":18,"labelFontWeight":"bold","labelFont":"Liberation Sans","labelColor":"#000","labelOffset":18,"symbolSize":400,"symbolStrokeWidth":1.5,"symbolOffset":14,"symbolOpacity":1,"rowPadding":2,"padding":8,"strokeColor":"#333","fillColor":"#fff"}},
"stroke":{"field":"s","type":"nominal","scale":{"domain":["ZFC","FC"],"range":["#000000","#ff0000"]},"legend":{"orient":"none","legendX":252,"legendY":135,"title":"0.01T","titleOrient":"bottom","titleAnchor":"middle","titleFontSize":18,"titleFontWeight":"bold","titleFont":"Liberation Sans","titleColor":"#000","titlePadding":30,"labelFontSize":18,"labelFontWeight":"bold","labelFont":"Liberation Sans","labelColor":"#000","labelOffset":18,"symbolSize":400,"symbolStrokeWidth":1.5,"symbolOffset":14,"symbolOpacity":1,"rowPadding":2,"padding":8,"strokeColor":"#333","fillColor":"#fff"}},
"shape":{"field":"s","type":"nominal","scale":{"domain":["ZFC","FC"],"range":["M-2.35,0H2.35M-1,-1H1V1H-1Z","M-2.35,0H2.35M1,0A1,1,0,1,1,-1,0A1,1,0,1,1,1,0Z"]},"legend":{"orient":"none","legendX":252,"legendY":135,"title":"0.01T","titleOrient":"bottom","titleAnchor":"middle","titleFontSize":18,"titleFontWeight":"bold","titleFont":"Liberation Sans","titleColor":"#000","titlePadding":30,"labelFontSize":18,"labelFontWeight":"bold","labelFont":"Liberation Sans","labelColor":"#000","labelOffset":18,"symbolSize":400,"symbolStrokeWidth":1.5,"symbolOffset":14,"symbolOpacity":1,"rowPadding":2,"padding":8,"strokeColor":"#333","fillColor":"#fff"}}}}
]},
{"width":313.5,"height":313.5,
"resolve":{"axis":{"x":"independent"}},
"encoding":{"x":{"field":"t","type":"quantitative","scale":{"domain":[0,440],"nice":false,"zero":false},"axis":{"values":[0,50,100,150,200,250,300,350,400],"labels":false,"title":null,"tickSize":{"condition":{"test":"datum.value % 100 == 0","value":7},"value":4}}},
"y":{"field":"m","type":"quantitative","scale":{"domain":[0,2.2],"nice":false},"axis":{"orient":"right","values":[0,0.3,0.6,0.9,1.2,1.5,1.8,2.1],"format":".1f","labelFontSize":25,"labelExpr":"abs(datum.value/0.6-round(datum.value/0.6))<0.01 ? datum.label : ''","title":"M(emu/g)","titlePadding":3,"tickSize":{"condition":{"test":"abs(datum.value/0.6-round(datum.value/0.6))<0.01","value":7},"value":4}}}},
"layer":[
{"data":{"name":"eZ"},"mark":{"type":"line","color":"#000","strokeWidth":4}},
{"data":{"name":"eZ"},"mark":{"type":"point","shape":"square","filled":true,"color":"#000","size":30,"opacity":1}},
{"data":{"name":"eF"},"mark":{"type":"line","color":"#f00","strokeWidth":4}},
{"data":{"name":"eF"},"mark":{"type":"point","shape":"circle","filled":true,"color":"#f00","size":28,"opacity":1}},
{"data":{"values":[{"t":323,"m":0.494,"t2":257,"m2":0.64},{"t":206,"m":0.228,"t2":280,"m2":0.106}]},"mark":{"type":"rule","color":"#f0f","strokeWidth":2},"encoding":{"x2":{"field":"t2"},"y2":{"field":"m2"}}},
{"data":{"values":[{"t":257,"m":0.64}]},"mark":{"type":"point","shape":"triangle","angle":294,"filled":true,"color":"#f0f","size":60,"opacity":1}},
{"data":{"values":[{"t":280,"m":0.106}]},"mark":{"type":"point","shape":"triangle","angle":108,"filled":true,"color":"#f0f","size":60,"opacity":1}},
{"data":{"values":[{"t":116,"m":1.62,"m2":1.79},{"t":201,"m":0.92,"m2":1.15}]},"mark":{"type":"rule","color":"#00f","strokeWidth":2},"encoding":{"y2":{"field":"m2"}}},
{"data":{"values":[{"t":429,"m":1.95,"k":"e)"}]},"mark":{"type":"text","fontSize":38,"align":"right","baseline":"middle"},"encoding":{"text":{"field":"k"}}},
{"data":{"values":[{"t":297,"m":1.94,"k":"P4"},{"t":313,"m":1.69,"k":"5~10μm"}]},"mark":{"type":"text","fontSize":25,"align":"center","baseline":"middle"},"encoding":{"text":{"field":"k"}}},
{"data":{"values":[{"t":51.5,"m":1.92,"k":"T"},{"t":161.4,"m":1.33,"k":"T"}]},"mark":{"type":"text","fontSize":32,"align":"left","baseline":"middle","color":"#00f"},"encoding":{"text":{"field":"k"}}},
{"data":{"values":[{"t":80,"m":1.79,"k":"C"},{"t":98,"m":2.02,"k":"A"},{"t":189,"m":1.2,"k":"mstru"}]},"mark":{"type":"text","fontSize":20,"align":"left","baseline":"middle","color":"#00f"},"encoding":{"text":{"field":"k"}}},
{"data":{"values":[{"t":0,"m":0}]},"mark":{"type":"point","opacity":0},"encoding":{"x":{"field":"t","type":"quantitative","axis":{"orient":"top","values":[0,50,100,150,200,250,300,350,400],"labels":false,"title":null,"tickSize":{"condition":{"test":"datum.value % 100 == 0","value":-6},"value":-4}}}}}
]},
{"width":313.5,"height":313.5,
"encoding":{"x":{"field":"t","type":"quantitative","scale":{"domain":[0,440],"nice":false,"zero":false},"axis":{"values":[0,50,100,150,200,250,300,350,400],"labels":false,"title":null,"tickSize":{"condition":{"test":"datum.value % 100 == 0","value":7},"value":4}}},
"y":{"field":"m","type":"quantitative","scale":{"domain":[0,2.69],"nice":false},"axis":{"values":[0,0.3,0.6,0.9,1.2,1.5,1.8,2.1,2.4],"format":".1f","labelExpr":"abs(datum.value/0.6-round(datum.value/0.6))<0.01 ? datum.label : ''","title":"M(emu/g)","titlePadding":5,"tickSize":{"condition":{"test":"abs(datum.value/0.6-round(datum.value/0.6))<0.01","value":7},"value":4}}}},
"layer":[
{"data":{"name":"bZ"},"mark":{"type":"line","color":"#000","strokeWidth":1}},
{"data":{"name":"bZ"},"mark":{"type":"point","shape":"square","filled":true,"color":"#000","size":49,"opacity":1}},
{"data":{"name":"bF"},"mark":{"type":"line","color":"#f00","strokeWidth":1}},
{"data":{"name":"bF"},"mark":{"type":"point","shape":"triangle-up","filled":true,"color":"#f00","size":60,"opacity":1}},
{"data":{"values":[{"t":178,"m":0.31,"t2":178,"m2":0.72},{"t":217.5,"m":0.98,"t2":217.5,"m2":0.53}]},"mark":{"type":"rule","color":"#f0f","strokeWidth":2},"encoding":{"x2":{"field":"t2"},"y2":{"field":"m2"}}},
{"data":{"values":[{"t":178,"m":0.72}]},"mark":{"type":"point","shape":"triangle-up","filled":true,"color":"#f0f","size":60,"opacity":1}},
{"data":{"values":[{"t":217.5,"m":0.53}]},"mark":{"type":"point","shape":"triangle-down","filled":true,"color":"#f0f","size":60,"opacity":1}},
{"data":{"values":[{"t":116,"m":0.82,"m2":1.07}]},"mark":{"type":"rule","color":"#00f","strokeWidth":2},"encoding":{"y2":{"field":"m2"}}},
{"data":{"values":[{"t":21,"m":2.41,"k":"b)"}]},"mark":{"type":"text","fontSize":38,"align":"left","baseline":"middle"},"encoding":{"text":{"field":"k"}}},
{"data":{"values":[{"t":306,"m":2.33,"k":"P1"},{"t":332,"m":2.02,"k":"60~100μm"}]},"mark":{"type":"text","fontSize":25,"align":"center","baseline":"middle"},"encoding":{"text":{"field":"k"}}},
{"data":{"values":[{"t":59,"m":1.18,"k":"T"}]},"mark":{"type":"text","fontSize":32,"align":"left","baseline":"middle","color":"#00f"},"encoding":{"text":{"field":"k"}}},
{"data":{"values":[{"t":88,"m":1.01,"k":"C"},{"t":110,"m":1.29,"k":"A"}]},"mark":{"type":"text","fontSize":20,"align":"left","baseline":"middle","color":"#00f"},"encoding":{"text":{"field":"k"}}}
]},
{"width":313.5,"height":313.5,
"encoding":{"x":{"field":"t","type":"quantitative","scale":{"domain":[0,440],"nice":false,"zero":false},"axis":{"values":[0,50,100,150,200,250,300,350,400],"labels":false,"title":null,"tickSize":{"condition":{"test":"datum.value % 100 == 0","value":7},"value":4}}},
"y":{"field":"m","type":"quantitative","scale":{"domain":[0,3.9],"nice":false},"axis":{"orient":"right","values":[0,0.5,1,1.5,2,2.5,3,3.5],"format":"d","labelFontSize":25,"labelFontWeight":"normal","titleFontWeight":"normal","labelExpr":"datum.value % 1 == 0 ? datum.label : ''","title":"M(emu/g)","titlePadding":3,"tickSize":{"condition":{"test":"datum.value % 1 == 0","value":7},"value":4}}}},
"layer":[
{"data":{"name":"fZ"},"mark":{"type":"line","color":"#000","strokeWidth":4}},
{"data":{"name":"fZ"},"mark":{"type":"point","shape":"square","filled":true,"color":"#000","size":30,"opacity":1}},
{"data":{"name":"fF"},"mark":{"type":"line","color":"#f00","strokeWidth":4}},
{"data":{"name":"fF"},"mark":{"type":"point","shape":"circle","filled":true,"color":"#f00","size":28,"opacity":1}},
{"data":{"values":[{"t":318,"m":1.16,"t2":272,"m2":1.55},{"t":234,"m":0.61,"t2":305,"m2":0.43}]},"mark":{"type":"rule","color":"#f0f","strokeWidth":2},"encoding":{"x2":{"field":"t2"},"y2":{"field":"m2"}}},
{"data":{"values":[{"t":272,"m":1.55}]},"mark":{"type":"point","shape":"triangle","angle":313,"filled":true,"color":"#f0f","size":60,"opacity":1}},
{"data":{"values":[{"t":305,"m":0.43}]},"mark":{"type":"point","shape":"triangle","angle":106,"filled":true,"color":"#f0f","size":60,"opacity":1}},
{"data":{"values":[{"t":426,"m":3.46,"k":"f)"}]},"mark":{"type":"text","fontSize":38,"align":"right","baseline":"middle"},"encoding":{"text":{"field":"k"}}},
{"data":{"values":[{"t":290,"m":3.38,"k":"P5"},{"t":304,"m":2.9,"k":"2~5μm"}]},"mark":{"type":"text","fontSize":25,"align":"center","baseline":"middle"},"encoding":{"text":{"field":"k"}}}
]},
{"width":313.5,"height":313.5,
"encoding":{"x":{"field":"t","type":"quantitative","scale":{"domain":[0,440],"nice":false,"zero":false},"axis":{"values":[0,50,100,150,200,250,300,350,400],"labels":false,"title":null,"tickSize":{"condition":{"test":"datum.value % 100 == 0","value":7},"value":4}}},
"y":{"field":"m","type":"quantitative","scale":{"domain":[0,2.69],"nice":false},"axis":{"values":[0,0.3,0.6,0.9,1.2,1.5,1.8,2.1,2.4],"format":".1f","labelExpr":"abs(datum.value/0.6-round(datum.value/0.6))<0.01 ? datum.label : ''","title":"M(emu/g)","titlePadding":5,"tickSize":{"condition":{"test":"abs(datum.value/0.6-round(datum.value/0.6))<0.01","value":7},"value":4}}}},
"layer":[
{"data":{"name":"cZ"},"mark":{"type":"line","color":"#000","strokeWidth":1}},
{"data":{"name":"cZ"},"mark":{"type":"point","shape":"square","filled":true,"color":"#000","size":49,"opacity":1}},
{"data":{"name":"cF"},"mark":{"type":"line","color":"#f00","strokeWidth":1}},
{"data":{"name":"cF"},"mark":{"type":"point","shape":"triangle-up","filled":true,"color":"#f00","size":60,"opacity":1}},
{"data":{"values":[{"t":175.5,"m":0.34,"t2":175.5,"m2":0.75},{"t":220,"m":1.09,"t2":220,"m2":0.63}]},"mark":{"type":"rule","color":"#f0f","strokeWidth":2},"encoding":{"x2":{"field":"t2"},"y2":{"field":"m2"}}},
{"data":{"values":[{"t":175.5,"m":0.75}]},"mark":{"type":"point","shape":"triangle-up","filled":true,"color":"#f0f","size":60,"opacity":1}},
{"data":{"values":[{"t":220,"m":0.63}]},"mark":{"type":"point","shape":"triangle-down","filled":true,"color":"#f0f","size":60,"opacity":1}},
{"data":{"values":[{"t":16.5,"m":2.36,"k":"c)"}]},"mark":{"type":"text","fontSize":38,"align":"left","baseline":"middle"},"encoding":{"text":{"field":"k"}}},
{"data":{"values":[{"t":318,"m":2.27,"k":"P2"},{"t":332,"m":1.97,"k":"20~40μm"}]},"mark":{"type":"text","fontSize":25,"align":"center","baseline":"middle"},"encoding":{"text":{"field":"k"}}}
]},
{"width":313.5,"height":313.5,
"encoding":{"x":{"field":"t","type":"quantitative","scale":{"domain":[0,440],"nice":false,"zero":false},"axis":{"values":[0,50,100,150,200,250,300,350,400],"labels":false,"title":null,"tickSize":{"condition":{"test":"datum.value % 100 == 0","value":7},"value":4}}},
"y":{"field":"m","type":"quantitative","scale":{"domain":[0,4.4],"nice":false},"axis":{"orient":"right","values":[0,0.5,1,1.5,2,2.5,3,3.5,4],"format":"d","labelFontSize":25,"labelFontWeight":"normal","titleFontWeight":"normal","labelExpr":"datum.value % 1 == 0 ? datum.label : ''","title":"M(emu/g)","titlePadding":3,"tickSize":{"condition":{"test":"datum.value % 1 == 0","value":7},"value":4}}}},
"layer":[
{"data":{"name":"gZ"},"mark":{"type":"line","color":"#000","strokeWidth":4}},
{"data":{"name":"gZ"},"mark":{"type":"point","shape":"square","filled":true,"color":"#000","size":30,"opacity":1}},
{"data":{"name":"gF"},"mark":{"type":"line","color":"#f00","strokeWidth":4}},
{"data":{"name":"gF"},"mark":{"type":"point","shape":"circle","filled":true,"color":"#f00","size":28,"opacity":1}},
{"data":{"values":[{"t":250,"m":2.13,"t2":166,"m2":2.36},{"t":164,"m":0.85,"t2":239,"m2":0.87}]},"mark":{"type":"rule","color":"#f0f","strokeWidth":2},"encoding":{"x2":{"field":"t2"},"y2":{"field":"m2"}}},
{"data":{"values":[{"t":166,"m":2.36}]},"mark":{"type":"point","shape":"triangle","angle":285,"filled":true,"color":"#f0f","size":60,"opacity":1}},
{"data":{"values":[{"t":239,"m":0.87}]},"mark":{"type":"point","shape":"triangle","angle":88,"filled":true,"color":"#f0f","size":60,"opacity":1}},
{"data":{"values":[{"t":424,"m":3.9,"k":"g)"}]},"mark":{"type":"text","fontSize":38,"align":"right","baseline":"middle"},"encoding":{"text":{"field":"k"}}},
{"data":{"values":[{"t":290,"m":3.8,"k":"P6"},{"t":295,"m":3.28,"k":"1~2μm"}]},"mark":{"type":"text","fontSize":25,"align":"center","baseline":"middle"},"encoding":{"text":{"field":"k"}}}
]},
{"width":313.5,"height":313.5,
"encoding":{"x":{"field":"t","type":"quantitative","scale":{"domain":[0,440],"nice":false,"zero":false},"axis":{"values":[0,50,100,150,200,250,300,350,400],"format":"d","labelExpr":"datum.value % 100 == 0 ? datum.label : ''","title":"T(K)","titlePadding":5,"tickSize":{"condition":{"test":"datum.value % 100 == 0","value":7},"value":4}}},
"y":{"field":"m","type":"quantitative","scale":{"domain":[0,5.6],"nice":false},"axis":{"values":[0,0.5,1,1.5,2,2.5,3,3.5,4,4.5,5,5.5],"format":"d","labelExpr":"datum.value % 1 == 0 ? datum.label : ''","title":"M(emu/g)","titlePadding":5,"tickSize":{"condition":{"test":"datum.value % 1 == 0","value":7},"value":4}}}},
"layer":[
{"data":{"name":"dF"},"mark":{"type":"point","shape":"square","filled":true,"color":"#f00","size":45,"opacity":1}},
{"data":{"name":"dZ"},"mark":{"type":"line","color":"#000","strokeWidth":1}},
{"data":{"name":"dZ"},"mark":{"type":"point","shape":"square","filled":true,"color":"#000","size":55,"opacity":1}},
{"data":{"values":[{"t":172,"m":0.63,"t2":172,"m2":1.58},{"t":217,"m":2.57,"t2":222,"m2":1.46}]},"mark":{"type":"rule","color":"#f0f","strokeWidth":2},"encoding":{"x2":{"field":"t2"},"y2":{"field":"m2"}}},
{"data":{"values":[{"t":172,"m":1.58}]},"mark":{"type":"point","shape":"triangle-up","filled":true,"color":"#f0f","size":60,"opacity":1}},
{"data":{"values":[{"t":222,"m":1.46}]},"mark":{"type":"point","shape":"triangle-down","filled":true,"color":"#f0f","size":60,"opacity":1}},
{"data":{"values":[{"t":18.7,"m":5.03,"k":"d)"}]},"mark":{"type":"text","fontSize":38,"align":"left","baseline":"middle"},"encoding":{"text":{"field":"k"}}},
{"data":{"values":[{"t":316,"m":4.56,"k":"P3"},{"t":320.5,"m":3.88,"k":"10~20μm"}]},"mark":{"type":"text","fontSize":25,"align":"center","baseline":"middle"},"encoding":{"text":{"field":"k"}}}
]},
{"width":313.5,"height":313.5,
"encoding":{"x":{"field":"t","type":"quantitative","scale":{"domain":[0,440],"nice":false,"zero":false},"axis":{"values":[0,50,100,150,200,250,300,350,400],"format":"d","labelExpr":"datum.value % 100 == 0 ? datum.label : ''","title":"T(K)","titlePadding":5,"tickSize":{"condition":{"test":"datum.value % 100 == 0","value":7},"value":4}}},
"y":{"field":"m","type":"quantitative","scale":{"domain":[0,90],"nice":false},"axis":{"orient":"right","values":[0,10,20,30,40,50,60,70,80],"format":"d","labelFontSize":26,"labelExpr":"datum.value % 20 == 0 ? datum.label : ''","title":"M(emu/g)","titlePadding":3,"tickSize":{"condition":{"test":"datum.value % 20 == 0","value":7},"value":4}}}},
"layer":[
{"data":{"name":"hZ"},"mark":{"type":"line","strokeWidth":4},"encoding":{"color":{"field":"p","type":"nominal","scale":{"domain":["P1","P4","P5","P6"],"range":["#000000","#0000ff","#ff00ff","#008000"]},"legend":null}}},
{"data":{"name":"hF"},"mark":{"type":"line","strokeWidth":4},"encoding":{"color":{"field":"p","type":"nominal","scale":{"domain":["P1","P4","P5","P6"],"range":["#000000","#0000ff","#ff00ff","#008000"]},"legend":null}}},
{"data":{"name":"hZ"},"mark":{"type":"point","filled":true,"size":50,"opacity":1},"encoding":{"color":{"field":"p","type":"nominal","scale":{"domain":["P1","P4","P5","P6"],"range":["#000000","#0000ff","#ff00ff","#008000"]},"legend":null},"shape":{"field":"p","type":"nominal","scale":{"domain":["P1","P4","P5","P6"],"range":["square","triangle-up","triangle-left","diamond"]},"legend":null}}},
{"data":{"name":"hF"},"mark":{"type":"point","filled":false,"fill":"#fff","size":45,"opacity":1,"strokeWidth":1},"encoding":{"color":{"field":"p","type":"nominal","scale":{"domain":["P1","P4","P5","P6"],"range":["#000000","#0000ff","#ff00ff","#008000"]},"legend":null},"shape":{"field":"p","type":"nominal","scale":{"domain":["P1","P4","P5","P6"],"range":["square","triangle-up","triangle-left","diamond"]},"legend":null}}},
{"data":{"values":[{"t":140,"m":44.1,"t2":93.6,"m2":50.3},{"t":86.5,"m":42.6,"t2":128.7,"m2":36.4}]},"mark":{"type":"rule","color":"#f0f","strokeWidth":2},"encoding":{"x2":{"field":"t2"},"y2":{"field":"m2"}}},
{"data":{"values":[{"t":93.6,"m":50.3}]},"mark":{"type":"point","shape":"triangle","angle":303,"filled":true,"color":"#f0f","size":60,"opacity":1}},
{"data":{"values":[{"t":128.7,"m":36.4}]},"mark":{"type":"point","shape":"triangle","angle":126,"filled":true,"color":"#f0f","size":60,"opacity":1}},
{"data":{"values":[{"t":427,"m":81.4,"k":"h)"}]},"mark":{"type":"text","fontSize":38,"align":"right","baseline":"middle"},"encoding":{"text":{"field":"k"}}},
{"data":{"values":[{"t":311,"m":81.4,"k":"5T"}]},"mark":{"type":"text","fontSize":22,"align":"center","baseline":"middle"},"encoding":{"text":{"field":"k"}}},
{"data":{"values":[{"t":231,"m":69.4,"k":"P1"}]},"mark":{"type":"text","fontSize":25,"align":"center","baseline":"middle","color":"#000"},"encoding":{"text":{"field":"k"}}},
{"data":{"values":[{"t":37.4,"m":71.8,"k":"P4"}]},"mark":{"type":"text","fontSize":25,"align":"center","baseline":"middle","color":"#0000ff"},"encoding":{"text":{"field":"k"}}},
{"data":{"values":[{"t":37.4,"m":59.9,"k":"P5"}]},"mark":{"type":"text","fontSize":25,"align":"center","baseline":"middle","color":"#ff00ff"},"encoding":{"text":{"field":"k"}}},
{"data":{"values":[{"t":37.4,"m":44.1,"k":"P6"}]},"mark":{"type":"text","fontSize":25,"align":"center","baseline":"middle","color":"#1a7f1a"},"encoding":{"text":{"field":"k"}}}
]}
]
}
